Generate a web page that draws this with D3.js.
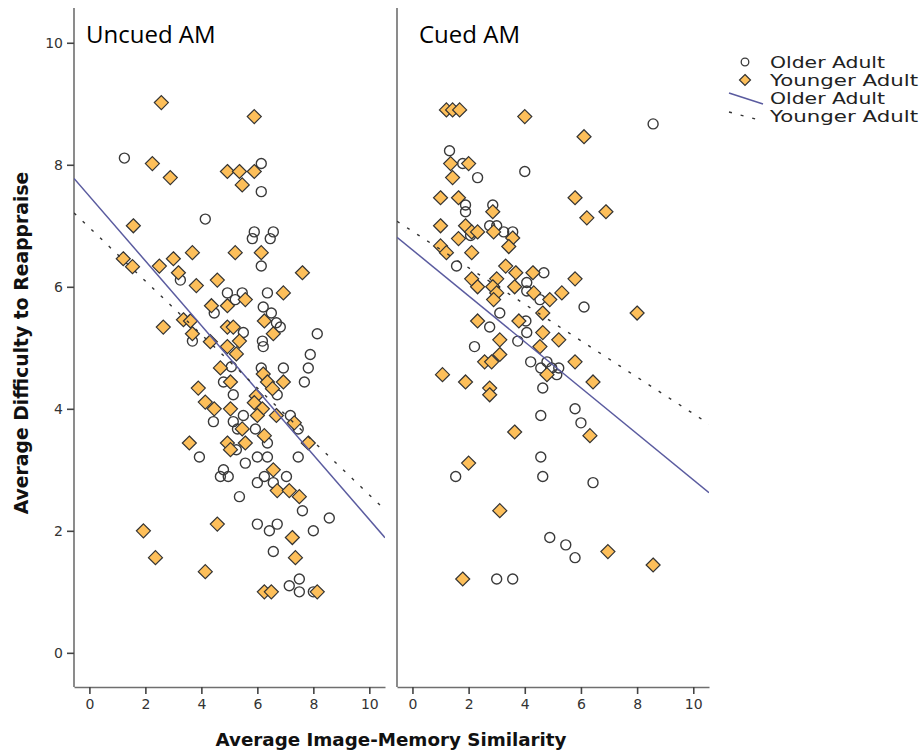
<!DOCTYPE html>
<html>
<head>
<meta charset="utf-8">
<script src="https://cdnjs.cloudflare.com/ajax/libs/d3/7.8.5/d3.min.js"></script>
<style>
  body { margin: 0; background: #fff; }
  svg text { font-family: "DejaVu Sans", sans-serif; }
</style>
</head>
<body>
<div id="chart"></div>
<script>
// values, [similarity, difficulty]
const olderUncued = [
  [1.25,8.11],[6.14,8.02],[6.14,7.56],[4.14,7.11],[5.89,6.90],[5.82,6.79],[6.57,6.90],[6.46,6.79],
  [6.14,6.34],[3.25,6.11],[4.93,5.90],[5.46,5.90],[6.36,5.90],[5.21,5.79],[4.46,5.57],[6.21,5.67],
  [6.50,5.57],[6.68,5.41],[6.82,5.34],[8.14,5.23],[5.50,5.25],[3.68,5.11],[6.18,5.11],[6.21,5.02],
  [7.89,4.89],[6.14,4.67],[6.93,4.67],[7.82,4.67],[7.68,4.44],[5.07,4.69],[4.79,4.44],[5.14,4.23],
  [6.71,4.23],[4.43,3.79],[5.14,3.79],[5.50,3.89],[5.29,3.67],[5.93,3.67],[6.36,3.44],[7.18,3.89],
  [7.46,3.67],[3.93,3.21],[5.25,3.33],[5.57,3.11],[6.00,3.21],[6.36,3.21],[7.46,3.21],[4.79,3.00],
  [4.68,2.89],[4.96,2.89],[5.36,2.56],[6.00,2.79],[6.25,2.89],[6.57,2.79],[7.04,2.89],[7.61,2.33],
  [8.57,2.21],[6.00,2.11],[6.43,2.00],[6.71,2.11],[8.00,2.00],[6.57,1.66],[7.14,1.10],[7.50,1.21],
  [7.50,1.00],[8.00,1.00]
];
const youngerUncued = [
  [2.57,9.02],[5.89,8.79],[2.25,8.02],[2.89,7.79],[4.93,7.89],[5.36,7.89],[5.89,7.89],[5.46,7.67],
  [1.57,7.00],[1.21,6.46],[1.54,6.33],[2.50,6.34],[3.00,6.46],[3.18,6.23],[3.68,6.56],[5.21,6.56],
  [6.14,6.56],[3.82,6.02],[4.57,6.11],[7.61,6.23],[4.36,5.69],[4.93,5.69],[5.57,5.79],[6.93,5.90],
  [2.64,5.34],[3.36,5.46],[3.61,5.44],[3.68,5.23],[4.93,5.34],[5.14,5.34],[6.25,5.44],[6.57,5.23],
  [4.32,5.10],[5.36,5.11],[4.93,5.02],[5.25,4.90],[4.68,4.67],[5.04,4.44],[3.89,4.34],[6.21,4.57],
  [6.36,4.44],[6.54,4.33],[6.93,4.44],[5.96,4.21],[5.89,4.10],[4.14,4.11],[4.46,4.00],[5.04,4.00],
  [6.18,4.00],[6.00,3.89],[6.68,3.89],[7.32,3.77],[5.46,3.67],[6.25,3.56],[3.57,3.44],[4.93,3.44],
  [5.57,3.44],[5.04,3.33],[7.82,3.44],[6.57,3.00],[6.71,2.66],[7.14,2.66],[7.50,2.56],[4.57,2.11],
  [1.93,2.00],[7.25,1.89],[2.36,1.56],[7.36,1.56],[4.14,1.33],[6.25,1.00],[6.50,1.00],[8.14,1.00]
];
const olderCued = [
  [8.57,8.67],[1.32,8.23],[1.79,8.02],[2.32,7.79],[4.00,7.89],[1.89,7.34],[1.89,7.23],[2.86,7.34],
  [2.75,7.00],[3.00,7.00],[2.07,6.84],[3.25,6.90],[3.57,6.90],[1.57,6.34],[4.68,6.23],[4.07,6.07],
  [4.07,5.93],[4.54,5.79],[6.11,5.67],[3.11,5.57],[2.75,5.34],[4.04,5.44],[4.07,5.25],[3.75,5.11],
  [2.21,5.02],[4.21,4.77],[4.79,4.77],[4.57,4.67],[4.96,4.67],[5.21,4.67],[5.14,4.56],[4.64,4.34],
  [5.79,4.00],[6.00,3.77],[4.57,3.89],[4.57,3.21],[1.54,2.89],[4.64,2.89],[6.43,2.79],[4.89,1.89],
  [5.46,1.77],[5.79,1.56],[3.00,1.21],[3.57,1.21]
];
const youngerCued = [
  [1.21,8.90],[1.43,8.90],[1.68,8.90],[4.00,8.79],[6.11,8.46],[1.36,8.02],[2.00,8.02],[1.43,7.79],
  [1.00,7.46],[1.64,7.46],[5.79,7.46],[2.86,7.23],[6.21,7.13],[6.89,7.23],[1.00,7.00],[1.89,7.00],
  [2.11,6.90],[2.32,6.90],[2.89,6.90],[3.57,6.80],[3.43,6.66],[1.64,6.79],[1.00,6.67],[1.21,6.56],
  [2.11,6.56],[3.32,6.34],[3.68,6.23],[4.29,6.23],[2.11,6.13],[2.32,6.00],[3.00,6.13],[2.86,6.00],
  [3.00,5.90],[2.89,5.79],[3.64,6.00],[4.32,5.90],[4.89,5.79],[5.32,5.90],[5.79,6.13],[8.00,5.57],
  [4.64,5.57],[2.32,5.44],[3.79,5.44],[4.64,5.25],[5.21,5.13],[3.11,5.13],[4.54,5.02],[3.11,4.89],
  [2.57,4.77],[2.82,4.77],[5.79,4.77],[1.07,4.56],[1.89,4.44],[2.75,4.34],[2.75,4.23],[4.79,4.56],
  [6.43,4.44],[3.64,3.62],[6.32,3.56],[2.00,3.11],[3.11,2.33],[6.96,1.66],[8.57,1.44],[1.79,1.21]
];

// fitted lines per panel: [older, younger]
const fitIntercepts = { uncued: [7.485, 6.97], cued: [6.605, 6.91] };
const fitSlopes = { uncued: [-0.53, -0.438], cued: [-0.377, -0.299] };

const panelTitles = ["Uncued AM", "Cued AM"];
const xTicks = [0, 2, 4, 6, 8, 10];
const yTicks = [0, 2, 4, 6, 8, 10];
const legendLabels = ["Older Adult", "Younger Adult", "Older Adult", "Younger Adult"];

const width = 923, height = 755;
const xDomain = [-0.55, 10.56];
const yDomain = [-0.56, 10.57];
const plotTop = 8, plotBottom = 687;

const panels = [
  { key: "uncued", title: panelTitles[0], older: olderUncued, younger: youngerUncued, left: 74, right: 385, titleX: 86 },
  { key: "cued", title: panelTitles[1], older: olderCued, younger: youngerCued, left: 397, right: 709, titleX: 419 }
];

const svg = d3.select("#chart").append("svg")
  .attr("width", width)
  .attr("height", height);

const y = d3.scaleLinear().domain(yDomain).range([plotBottom, plotTop]);

const diamond = "M0,-7L7,0L0,7L-7,0Z";
const lineColor = "#5a5b9f";

panels.forEach((p, i) => {
  const x = d3.scaleLinear().domain(xDomain).range([p.left, p.right]);
  const g = svg.append("g");

  // x axis
  const xAxis = g.append("g")
    .attr("transform", `translate(0,${plotBottom})`)
    .call(d3.axisBottom(x).tickValues(xTicks).tickSize(7).tickSizeOuter(0).tickPadding(5));
  xAxis.select(".domain").attr("stroke", "#6f6f6f").attr("stroke-width", 1.6);
  xAxis.selectAll(".tick line").attr("stroke", "#444").attr("stroke-width", 1.6);
  xAxis.selectAll(".tick text")
    .attr("font-size", 14).attr("fill", "#333")
    .style("font-family", "DejaVu Sans, sans-serif");

  // left frame line
  g.append("line")
    .attr("x1", p.left).attr("x2", p.left)
    .attr("y1", plotTop).attr("y2", plotBottom)
    .attr("stroke", "#6f6f6f").attr("stroke-width", 1.6);

  if (i === 0) {
    const yAxis = g.append("g")
      .attr("transform", `translate(${p.left},0)`)
      .call(d3.axisLeft(y).tickValues(yTicks).tickSize(7).tickSizeOuter(0).tickPadding(4));
    yAxis.select(".domain").remove();
    yAxis.selectAll(".tick line").attr("stroke", "#444").attr("stroke-width", 1.6);
    yAxis.selectAll(".tick text")
      .attr("font-size", 14).attr("fill", "#333")
      .style("font-family", "DejaVu Sans, sans-serif");
  }

  // title
  g.append("text")
    .attr("x", p.titleX).attr("y", 43)
    .attr("font-size", 24)
    .style("font-family", "'Open Sans', sans-serif")
    .attr("fill", "#000")
    .text(p.title);

  const clipId = "clip" + i;
  svg.append("clipPath").attr("id", clipId)
    .append("rect")
    .attr("x", p.left).attr("y", plotTop)
    .attr("width", p.right - p.left).attr("height", plotBottom - plotTop);

  const plot = g.append("g").attr("clip-path", `url(#${clipId})`);

  // older: open circles
  plot.selectAll("circle.older")
    .data(p.older)
    .enter()
    .append("circle")
    .attr("class", "older")
    .attr("cx", d => x(d[0]))
    .attr("cy", d => y(d[1]))
    .attr("r", 5)
    .attr("fill", "none")
    .attr("stroke", "#3a3a3a")
    .attr("stroke-width", 1.4);

  // younger: filled diamonds
  plot.selectAll("path.younger")
    .data(p.younger)
    .enter()
    .append("path")
    .attr("class", "younger")
    .attr("d", diamond)
    .attr("transform", d => `translate(${x(d[0])},${y(d[1])})`)
    .attr("fill", "#fdbf5a")
    .attr("stroke", "#333")
    .attr("stroke-width", 1.2);

  // fit lines
  const a = fitIntercepts[p.key], b = fitSlopes[p.key];
  [0, 1].forEach(k => {
    const pts = xDomain.map(v => [x(v), y(a[k] + b[k] * v)]);
    plot.append("path")
      .attr("d", d3.line()(pts))
      .attr("fill", "none")
      .attr("stroke", k === 0 ? lineColor : "#333")
      .attr("stroke-width", k === 0 ? 1.5 : 1.4)
      .attr("stroke-dasharray", k === 0 ? null : "3,9");
  });
});

// axis titles
svg.append("text")
  .attr("x", 391).attr("y", 746)
  .attr("text-anchor", "middle")
  .attr("font-size", 18.3).attr("font-weight", "bold").attr("fill", "#111")
  .text("Average Image-Memory Similarity");

svg.append("text")
  .attr("transform", "translate(28,343) rotate(-90)")
  .attr("text-anchor", "middle")
  .attr("font-size", 18.8).attr("font-weight", "bold").attr("fill", "#111")
  .text("Average Difficulty to Reappraise");

// legend
const legend = svg.append("g");
const rowY = [62, 80, 98, 116];
const labelWidths = [115, 148, 115, 148];
legend.append("circle")
  .attr("cx", 745).attr("cy", rowY[0]).attr("r", 3.8)
  .attr("fill", "none").attr("stroke", "#3a3a3a").attr("stroke-width", 1.3);
legend.append("path")
  .attr("d", "M0,-5.5L5.5,0L0,5.5L-5.5,0Z")
  .attr("transform", `translate(745,${rowY[1]})`)
  .attr("fill", "#fdbf5a").attr("stroke", "#333").attr("stroke-width", 1.2);
legend.append("line")
  .attr("x1", 729).attr("y1", rowY[2] - 5).attr("x2", 763).attr("y2", rowY[2] + 6)
  .attr("stroke", lineColor).attr("stroke-width", 1.5);
legend.append("line")
  .attr("x1", 729).attr("y1", rowY[3] - 4).attr("x2", 763).attr("y2", rowY[3] + 5)
  .attr("stroke", "#333").attr("stroke-width", 1.4).attr("stroke-dasharray", "3,9");

legend.selectAll("text.lab")
  .data(legendLabels)
  .enter()
  .append("text")
  .attr("class", "lab")
  .attr("x", 770)
  .attr("y", (d, i) => rowY[i] + 6)
  .attr("font-size", 15.5)
  .attr("textLength", (d, i) => labelWidths[i])
  .attr("lengthAdjust", "spacingAndGlyphs")
  .attr("fill", "#222")
  .text(d => d);
</script>
</body>
</html>
